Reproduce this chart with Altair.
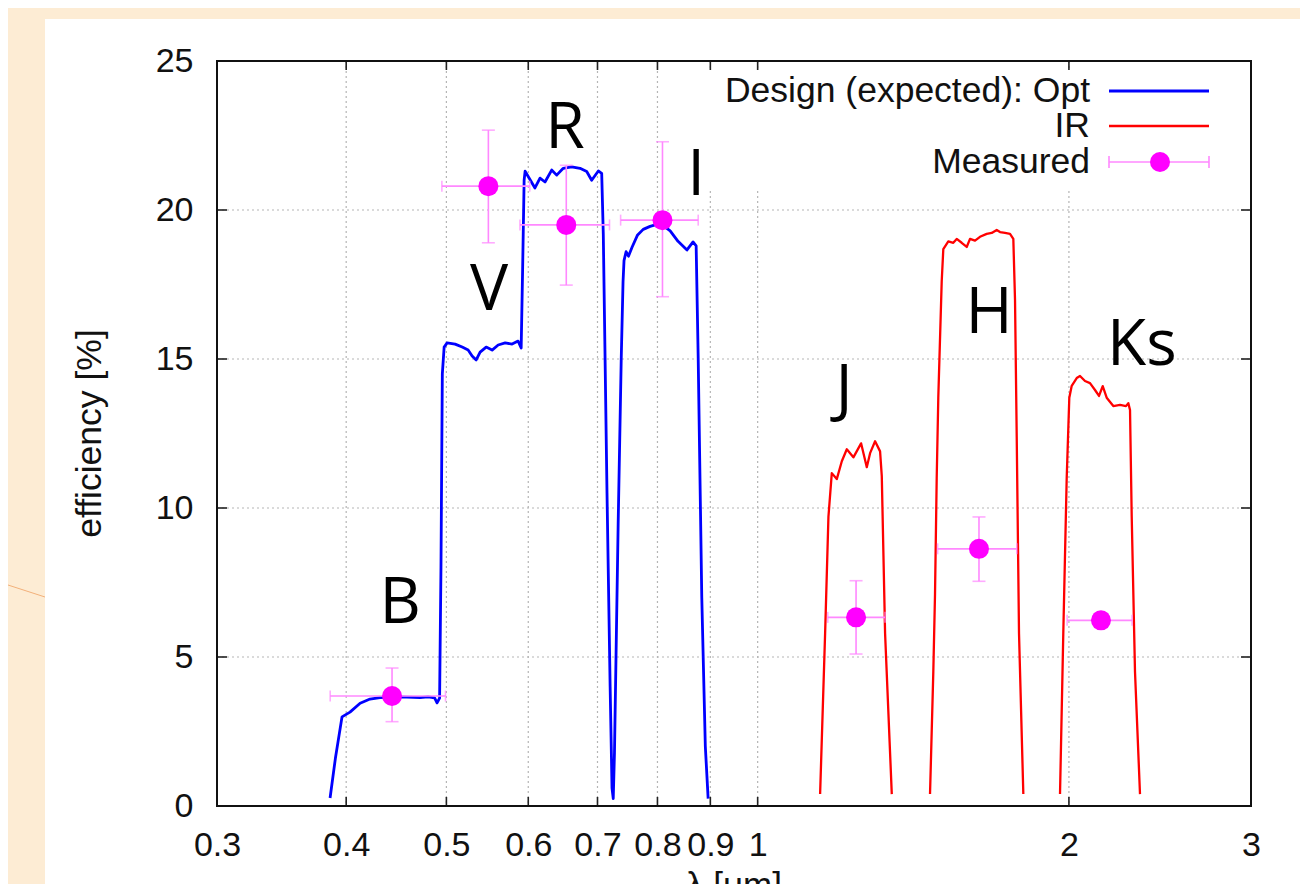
import altair as alt
import pandas as pd

# ---------------- data ----------------
# Design (expected) efficiency, optical (one continuous curve)
opt_x = [0.3859, 0.3905, 0.3963, 0.4034, 0.4126, 0.4218, 0.4312, 0.4509, 0.4715, 0.4800,
         0.4870, 0.4897, 0.4925, 0.4940, 0.4955, 0.4975, 0.5008, 0.5098, 0.5179, 0.5248,
         0.5295, 0.5343, 0.5390, 0.5463, 0.5536, 0.5611, 0.5699, 0.5788, 0.5866, 0.5906,
         0.5925, 0.5945, 0.5958, 0.6090, 0.6159, 0.6228, 0.6321, 0.6392, 0.6486, 0.6609,
         0.6733, 0.6834, 0.6910, 0.7013, 0.7066, 0.7091, 0.7150, 0.7200, 0.7230, 0.7250,
         0.7270, 0.7330, 0.7380, 0.7410, 0.7426, 0.7460, 0.7500, 0.7560, 0.7650, 0.7750,
         0.7870, 0.8050, 0.8230, 0.8375, 0.8544, 0.8660, 0.8720, 0.8760, 0.8830, 0.8900,
         0.8956]
opt_y = [0.27, 1.6, 2.99, 3.15, 3.45, 3.59, 3.64, 3.66, 3.64, 3.66,
         3.63, 3.46, 3.62, 8.0, 14.5, 15.4, 15.54, 15.5, 15.4, 15.3,
         15.1, 14.97, 15.23, 15.4, 15.3, 15.47, 15.54, 15.5, 15.6, 15.37,
         18.0, 21.0, 21.3, 20.74, 21.07, 20.94, 21.34, 21.17, 21.4, 21.45,
         21.4, 21.29, 21.0, 21.31, 21.23, 19.2, 10.5, 4.0, 0.6, 0.25,
         1.8, 9.5, 15.0, 17.6, 18.3, 18.6, 18.45, 18.75, 19.15, 19.35,
         19.45, 19.55, 19.3, 18.95, 18.66, 18.93, 18.8, 15.0, 7.0, 2.0,
         0.25]

# Design (expected) efficiency, IR bands
j_x = [1.1492, 1.1621, 1.1707, 1.1795, 1.1927, 1.2061, 1.2196, 1.2376, 1.2590, 1.2751,
       1.2845, 1.2989, 1.3134, 1.3184, 1.3281, 1.3481]
j_y = [0.4, 5.8, 9.7, 11.17, 10.97, 11.57, 11.97, 11.7, 12.17, 11.37,
       11.84, 12.24, 11.9, 11.07, 5.8, 0.4]
h_x = [1.4679, 1.4787, 1.4843, 1.4899, 1.4952, 1.5066, 1.5120, 1.5289, 1.5460, 1.5578,
       1.5752, 1.5929, 1.6046, 1.6226, 1.6407, 1.6654, 1.6841, 1.7029, 1.7155, 1.7347,
       1.7541, 1.7671, 1.7738, 1.7805, 1.7896, 1.8069]
h_y = [0.4, 4.5, 7.1, 11.0, 13.7, 17.6, 18.69, 18.95, 18.9, 19.03,
       18.9, 18.76, 19.03, 18.97, 19.1, 19.2, 19.23, 19.33, 19.26, 19.23,
       19.2, 19.03, 16.97, 12.4, 5.8, 0.4]
ks_x = [1.9607, 1.9751, 1.9901, 2.0017, 2.0125, 2.0350, 2.0500, 2.0729, 2.0961, 2.1196,
        2.1386, 2.1563, 2.1755, 2.2078, 2.2410, 2.2711, 2.2828, 2.2915, 2.3001, 2.3171,
        2.3430]
ks_y = [0.4, 5.8, 11.0, 13.7, 14.1, 14.36, 14.43, 14.26, 14.19, 13.96,
        13.76, 14.09, 13.7, 13.42, 13.46, 13.42, 13.52, 13.29, 9.73, 4.5,
        0.4]

# Measured efficiency with error bars
meas_band = ["B", "V", "R", "I", "J", "H", "Ks"]
meas_x = [0.443, 0.549, 0.653, 0.809, 1.245, 1.637, 2.148]
meas_y = [3.69, 20.8, 19.5, 19.66, 6.33, 8.63, 6.23]
meas_xlo = [0.386, 0.495, 0.589, 0.737, 1.169, 1.493, 1.992]
meas_xhi = [0.499, 0.602, 0.719, 0.876, 1.328, 1.781, 2.302]
meas_ylo = [2.83, 18.9, 17.48, 17.09, 5.1, 7.54, 5.98]
meas_yhi = [4.63, 22.68, 21.5, 22.29, 7.56, 9.7, 6.48]

# Band name annotations (anchor in data units)
label_text = ["B", "V", "R", "I", "J", "H", "Ks"]
label_x = [0.451, 0.550, 0.651, 0.872, 1.212, 1.674, 2.353]
label_y = [6.14, 16.64, 22.08, 20.50, 13.29, 15.87, 14.80]

# Axes
x_ticks = [0.3, 0.4, 0.5, 0.6, 0.7, 0.8, 0.9, 1, 2, 3]
y_ticks = [0, 5, 10, 15, 20, 25]
grid_x = [0.4, 0.5, 0.6, 0.7, 0.8, 0.9, 1, 2]
grid_y = [5, 10, 15, 20]

legend_labels = ["Design (expected): Opt", "IR", "Measured"]

# ---------------- styling ----------------
W, H = 1034, 745
PEACH = "#fdecd4"
BLUE = "#0000ff"
RED = "#ff0000"
MAG = "#ff00ff"
ERR = "#ff88ff"
FONT = "Liberation Sans"
LFONT = "Open Sans"

xscale = alt.Scale(type="log", domain=[0.3, 3], nice=False)
yscale = alt.Scale(domain=[0, 25], nice=False)
xaxis = alt.Axis(values=x_ticks, format="~g", title=None, grid=False, ticks=False,
                 domain=False, labelFont=FONT, labelFontSize=34, labelColor="#111111",
                 labelPadding=22, labelFlush=False, labelOverlap=False, labelBound=False,
                 zindex=1)
yaxis = alt.Axis(values=y_ticks, title=None, grid=False, ticks=False, domain=False,
                 labelFont=FONT, labelFontSize=34, labelColor="#111111", labelPadding=24,
                 labelOverlap=False, zindex=1)


def X(f):
    return alt.X(f, type="quantitative", scale=xscale, axis=xaxis)


def Y(f):
    return alt.Y(f, type="quantitative", scale=yscale, axis=yaxis)


one = pd.DataFrame({"a": [0]})

opt_df = pd.DataFrame({"x": opt_x, "y": opt_y})
ir_df = pd.concat([
    pd.DataFrame({"x": j_x, "y": j_y, "seg": "J"}),
    pd.DataFrame({"x": h_x, "y": h_y, "seg": "H"}),
    pd.DataFrame({"x": ks_x, "y": ks_y, "seg": "Ks"}),
])
meas_df = pd.DataFrame({"band": meas_band, "x": meas_x, "y": meas_y,
                        "xlo": meas_xlo, "xhi": meas_xhi, "ylo": meas_ylo, "yhi": meas_yhi})
lab_df = pd.DataFrame({"t": label_text, "x": label_x, "y": label_y})
gx_df = pd.DataFrame({"v": grid_x})
gy_df = pd.DataFrame({"v": grid_y})

# ---------------- decorations ----------------
peach_left = alt.Chart(one).mark_rect(color=PEACH).encode(
    x=alt.value(-215), x2=alt.value(-172), y=alt.value(-60), y2=alt.value(840))
peach_top = alt.Chart(one).mark_rect(color=PEACH).encode(
    x=alt.value(-215), x2=alt.value(1100), y=alt.value(-60), y2=alt.value(-42))
deco_line = alt.Chart(one).mark_rule(color="#f2b07a", strokeWidth=1).encode(
    x=alt.value(-209), y=alt.value(524), x2=alt.value(-172), y2=alt.value(536))

grid_vx = alt.Chart(gx_df).mark_rule(color="#b5b5b5", strokeWidth=1.2, strokeDash=[2, 3]).encode(
    x=X("v"), y=alt.value(0), y2=alt.value(H))
grid_hy = alt.Chart(gy_df).mark_rule(color="#b5b5b5", strokeWidth=1.2, strokeDash=[2, 3]).encode(
    y=Y("v"), x=alt.value(0), x2=alt.value(W))

legend_box = alt.Chart(one).mark_rect(color="white").encode(
    x=alt.value(487), x2=alt.value(1028), y=alt.value(10), y2=alt.value(129))

# ---------------- data marks ----------------
opt_line = alt.Chart(opt_df).mark_line(color=BLUE, strokeWidth=2.8, strokeJoin="round").encode(
    x=X("x"), y=Y("y"))
ir_line = alt.Chart(ir_df).mark_line(color=RED, strokeWidth=2.3, strokeJoin="round").encode(
    x=X("x"), y=Y("y"), detail="seg:N")

hbar = alt.Chart(meas_df).mark_rule(color=ERR, strokeWidth=1.6).encode(x=X("xlo"), x2="xhi", y=Y("y"))
vbar = alt.Chart(meas_df).mark_rule(color=ERR, strokeWidth=1.6).encode(x=X("x"), y=Y("ylo"), y2="yhi")
cap_l = alt.Chart(meas_df).mark_tick(color=ERR, orient="vertical", size=11, thickness=1.6).encode(
    x=X("xlo"), y=Y("y"))
cap_r = alt.Chart(meas_df).mark_tick(color=ERR, orient="vertical", size=11, thickness=1.6).encode(
    x=X("xhi"), y=Y("y"))
cap_b = alt.Chart(meas_df).mark_tick(color=ERR, orient="horizontal", size=13, thickness=1.6).encode(
    x=X("x"), y=Y("ylo"))
cap_t = alt.Chart(meas_df).mark_tick(color=ERR, orient="horizontal", size=13, thickness=1.6).encode(
    x=X("x"), y=Y("yhi"))
pts = alt.Chart(meas_df).mark_circle(color=MAG, size=400, opacity=1).encode(x=X("x"), y=Y("y"))

# inward ticks on all four sides
tk_b = alt.Chart(gx_df).mark_rule(color="#222222", strokeWidth=1.6).encode(
    x=X("v"), y=alt.value(H), y2=alt.value(H - 9))
tk_t = alt.Chart(gx_df).mark_rule(color="#222222", strokeWidth=1.6).encode(
    x=X("v"), y=alt.value(0), y2=alt.value(9))
tk_l = alt.Chart(gy_df).mark_rule(color="#222222", strokeWidth=1.6).encode(
    y=Y("v"), x=alt.value(0), x2=alt.value(10))
tk_r = alt.Chart(gy_df).mark_rule(color="#222222", strokeWidth=1.6).encode(
    y=Y("v"), x=alt.value(W), x2=alt.value(W - 10))

frame = alt.Chart(one).mark_rect(filled=False, stroke="#111111", strokeWidth=2).encode(
    x=alt.value(0), x2=alt.value(W), y=alt.value(0), y2=alt.value(H))

band_labels = alt.Chart(lab_df).mark_text(font=LFONT, fontSize=64, color="black",
                                          align="center", baseline="alphabetic").encode(
    x=X("x"), y=Y("y"), text="t:N")

# ---------------- legend ----------------
LX_TXT, LX0, LX1, LXD = 873, 892, 992, 943
LY = [30, 65, 101]
leg_layers = []
for txt, yy in zip(legend_labels, LY):
    leg_layers.append(alt.Chart(one).mark_text(text=txt, font=FONT, fontSize=35.5, color="#111111",
                                               align="right", baseline="middle").encode(
        x=alt.value(LX_TXT), y=alt.value(yy)))
leg_layers.append(alt.Chart(one).mark_rule(color=BLUE, strokeWidth=2.8).encode(
    x=alt.value(LX0), x2=alt.value(LX1), y=alt.value(LY[0])))
leg_layers.append(alt.Chart(one).mark_rule(color=RED, strokeWidth=2.3).encode(
    x=alt.value(LX0), x2=alt.value(LX1), y=alt.value(LY[1])))
leg_layers.append(alt.Chart(one).mark_rule(color=ERR, strokeWidth=1.6).encode(
    x=alt.value(LX0), x2=alt.value(LX1), y=alt.value(LY[2])))
leg_layers.append(alt.Chart(one).mark_rule(color=ERR, strokeWidth=1.6).encode(
    x=alt.value(LX0), y=alt.value(LY[2] - 6), y2=alt.value(LY[2] + 6)))
leg_layers.append(alt.Chart(one).mark_rule(color=ERR, strokeWidth=1.6).encode(
    x=alt.value(LX1), y=alt.value(LY[2] - 6), y2=alt.value(LY[2] + 6)))
leg_layers.append(alt.Chart(one).mark_circle(color=MAG, size=400, opacity=1).encode(
    x=alt.value(LXD), y=alt.value(LY[2])))

# ---------------- titles ----------------
x_title = alt.Chart(one).mark_text(text="λ [μm]", font=FONT, fontSize=35, color="#111111",
                                   align="center", baseline="alphabetic").encode(
    x=alt.value(W / 2), y=alt.value(836))
y_title = alt.Chart(one).mark_text(text="efficiency [%]", font=FONT, fontSize=35.5, color="#111111",
                                   align="center", baseline="alphabetic", angle=270).encode(
    x=alt.value(-116), y=alt.value(H / 2))

chart = alt.layer(
    peach_left, peach_top, deco_line,
    grid_vx, grid_hy, legend_box,
    opt_line, ir_line,
    hbar, vbar, cap_l, cap_r, cap_b, cap_t, pts,
    tk_b, tk_t, tk_l, tk_r, frame,
    band_labels,
    *leg_layers,
    x_title, y_title,
).properties(
    width=W, height=H,
    autosize=alt.AutoSizeParams(type="none"),
    padding={"left": 209, "top": 53, "right": 49, "bottom": 78},
    background="white",
).configure_view(strokeWidth=0)

chart.save("out.html", embed_options={"renderer": "svg", "actions": False})
